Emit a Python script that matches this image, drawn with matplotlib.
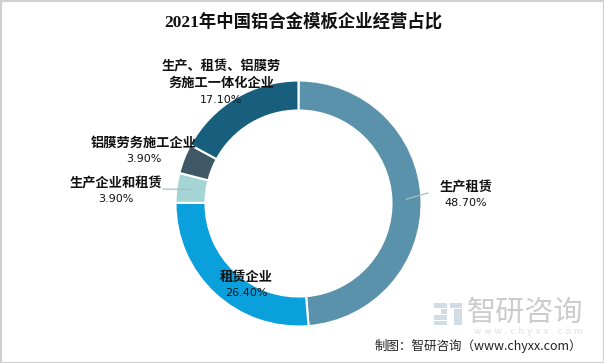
import matplotlib.pyplot as plt
import numpy as np
from matplotlib.patches import Rectangle

W, H = 604, 363

categories = ["生产租赁", "租赁企业", "生产企业和租赁", "铝膜劳务施工企业", "生产、租赁、铝膜劳\n务施工一体化企业"]
shares = [48.70, 26.40, 3.90, 3.90, 17.10]
colors = ["#5b92ab", "#0aa0dc", "#a4d4d4", "#3e5866", "#175f7d"]

TITLE = "2021年中国铝合金模板企业经营占比"
SOURCE = "制图：智研咨询（www.chyxx.com）"

CJK = ["Noto Sans CJK SC", "DejaVu Sans"]
plt.rcParams["font.family"] = CJK

fig = plt.figure(figsize=(W / 100, H / 100), dpi=100)
ax = fig.add_axes([0, 0, 1, 1])

cx, cy, R = 298.5, H - 203.5, 123
wedges, _ = ax.pie(
    shares, colors=colors, startangle=90, counterclock=False,
    radius=R, center=(cx, cy), frame=True,
    wedgeprops=dict(width=30, edgecolor="white", linewidth=1.5),
)
ax.set_xlim(0, W)
ax.set_ylim(0, H)
ax.set_aspect("equal")
ax.axis("off")

# label anchors (pixel layout, y from top) and leader-line ends
label_pos = [(466, 187), (246, 277), (116, 183), (144, 143), (221, 75)]
leader_end = [(428, 193), None, (163, 189), None, None]

for i, (w, name, pct) in enumerate(zip(wedges, categories, shares)):
    lx, ly = label_pos[i]
    nlines = name.count("\n") + 1
    ax.text(lx, H - ly, name, ha="center", va="center", fontsize=9.5,
            fontweight="bold", color="#111111", linespacing=1.25,
            family=CJK)
    py = ly + 8 + 8.5 * nlines
    ax.text(lx, H - py, f"{pct:.2f}%", ha="center", va="center",
            fontsize=8, color="#111111", family=["DejaVu Sans"])
    if leader_end[i] is not None:
        mid = np.deg2rad((w.theta1 + w.theta2) / 2)
        r0 = R - 15
        x0, y0 = cx + r0 * np.cos(mid), cy + r0 * np.sin(mid)
        ex, ey = leader_end[i]
        ax.plot([x0, ex], [y0, H - ey], color="#a8c0cc", lw=0.9)

# title
ax.text(W / 2 + 1, H - 22, TITLE, ha="center", va="center", fontsize=12.5,
        fontweight="bold", color="#111111",
        family=["Liberation Serif", "Noto Sans CJK SC"])

# watermark logo
for (x, y, w_, h_) in [(434, 303, 13, 5), (441, 309, 6, 5), (434, 315, 13, 5),
                       (434, 321, 13, 4), (450, 303, 12, 5), (454, 309, 8, 16)]:
    ax.add_patch(Rectangle((x, H - y - h_), w_, h_, color="#d2dce6", lw=0))
ax.text(525, H - 313, "智研咨询", ha="center", va="center", fontsize=21,
        color="#cccccc", family=CJK)
ax.text(528, H - 331, "w w w . c h y x x . c o m", ha="center", va="center",
        fontsize=6.5, color="#e0e0e0", family=["DejaVu Sans"])

ax.text(478, H - 346, SOURCE, ha="center", va="center", fontsize=9,
        color="#222222", family=CJK)

# frame
ax.add_patch(Rectangle((0.5, 0.5), W - 1, H - 1, fill=False,
                       edgecolor="#d0d0d0", lw=1.5))

fig.savefig("out.png", dpi=100)
